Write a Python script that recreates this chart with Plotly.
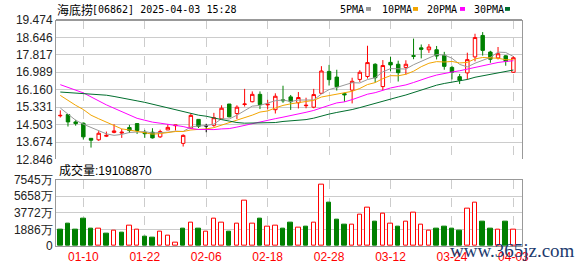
import plotly.graph_objects as go
import pandas as pd

# ---------------- data ----------------
tick_idx = [3, 11, 19, 27, 35, 43, 51, 59]
tick_labels = ["01-10", "01-22", "02-06", "02-18", "02-28", "03-12", "03-24", "04-03"]

opens = [14.92, 14.98, 14.63, 14.57, 13.85, 13.78, 13.95, 14.13, 14.10, 14.36,
         14.55, 14.13, 14.14, 13.92, 14.25, 14.45, 13.61, 14.34, 14.75, 14.44,
         14.47, 14.78, 15.48, 15.03, 15.46, 15.59, 15.94, 15.44, 15.21, 15.68,
         15.82, 15.54, 15.40, 15.33, 15.99, 17.03, 16.76, 15.97, 16.14, 16.65,
         16.79, 17.37, 16.31, 17.46, 17.37, 17.22, 17.78, 18.15, 18.06, 18.06,
         17.80, 17.22, 16.78, 16.96, 17.72, 18.74, 17.95, 17.67, 17.77, 16.99]
highs = [15.18, 14.98, 14.73, 14.60, 13.85, 14.19, 14.17, 14.52, 14.29, 14.49,
         14.55, 14.25, 14.33, 14.26, 14.52, 14.48, 14.04, 15.04, 14.75, 14.54,
         15.06, 15.42, 15.48, 15.42, 16.20, 16.08, 16.08, 15.68, 15.99, 16.35,
         15.91, 16.05, 15.78, 16.20, 17.28, 17.34, 17.11, 16.02, 16.73, 17.09,
         18.25, 17.42, 17.57, 17.72, 17.54, 17.56, 18.59, 18.31, 18.33, 18.24,
         17.96, 17.30, 16.91, 17.92, 18.82, 18.90, 18.01, 18.19, 17.80, 17.75]
lows = [14.84, 14.41, 14.45, 13.79, 13.41, 13.73, 13.91, 14.09, 13.87, 14.10,
        14.06, 13.87, 13.84, 13.87, 14.24, 14.22, 13.46, 14.30, 14.34, 14.14,
        14.40, 14.75, 14.85, 14.77, 15.36, 15.56, 15.24, 15.22, 15.03, 15.54,
        15.20, 15.27, 15.28, 15.28, 15.97, 16.36, 16.12, 15.59, 15.51, 16.53,
        16.69, 16.50, 16.14, 17.03, 16.55, 16.88, 17.61, 17.65, 17.91, 17.60,
        17.11, 16.65, 16.43, 16.64, 17.51, 17.78, 17.44, 17.60, 17.30, 16.96]
closes = [14.94, 14.63, 14.55, 13.92, 13.76, 14.09, 13.99, 14.20, 14.14, 14.22,
          14.22, 14.07, 13.87, 14.17, 14.37, 14.48, 13.99, 14.94, 14.42, 14.44,
          14.83, 15.28, 14.87, 15.33, 15.48, 15.94, 15.45, 15.47, 15.85, 15.64,
          15.59, 15.79, 15.42, 15.93, 17.05, 16.64, 16.30, 15.92, 16.56, 16.99,
          17.45, 16.73, 17.31, 17.34, 16.97, 17.37, 17.75, 18.08, 18.19, 17.76,
          17.27, 16.99, 16.61, 17.59, 18.64, 18.03, 17.61, 17.87, 17.50, 17.68]

# volume in 万 shares
volumes = [1840, 2503, 1840, 3055, 1950, 2024, 1398, 1693, 1509, 2355,
           1914, 1067, 957, 1582, 1141, 368, 1950, 2686, 1950, 1582,
           3128, 2686, 1619, 2576, 5152, 2576, 3165, 2245, 2355, 1950,
           2613, 2134, 2171, 2686, 6992, 4931, 3054, 2392, 2466, 3570,
           4342, 2723, 3680, 2576, 2171, 2797, 3790, 2466, 1803, 1950,
           2245, 1950, 1730, 4232, 4894, 2723, 1950, 1914, 2723, 1911]
first_volume_up = False  # colour of the first volume bar as seen in the picture

# moving-average values visible before each window is complete
ma5_head = [15.29, 15.01, 14.71, 14.52]
ma10_head = [15.89, 15.65, 15.42, 15.22, 14.95, 14.78, 14.62, 14.45, 14.30]
ma20_head = [16.40, 16.27, 16.17, 16.01, 15.82, 15.62, 15.44, 15.28, 15.13, 14.95,
             14.80, 14.71, 14.62, 14.57, 14.52, 14.48, 14.41, 14.32, 14.27]
ma30_head = [16.05, 16.03, 16.01, 15.98, 15.96, 15.93, 15.90, 15.84, 15.78, 15.70,
             15.63, 15.56, 15.47, 15.38, 15.30, 15.21, 15.13, 15.01, 14.95, 14.90,
             14.81, 14.74, 14.67, 14.60, 14.57, 14.57, 14.57, 14.57, 14.60]

price_ticks = [12.846, 13.674, 14.503, 15.331, 16.160, 16.989, 17.817, 18.646, 19.474]
vol_ticks = [0, 1886, 3772, 5658, 7545]
vol_tick_labels = ["0", "1886万", "3772万", "5658万", "7545万"]

title_name = "海底捞"
title_rest = "[06862] 2025-04-03 15:28"
vol_title = "成交量:19108870"
ma_names = ["5PMA", "10PMA", "20PMA", "30PMA"]
ma_colors = ["#999999", "#f2a500", "#ff00ff", "#006e2e"]

# ---------------- derived ----------------
n = len(closes)
x = list(range(n))
cs = pd.Series(closes)


def ma(win, head):
    s = cs.rolling(win).mean().tolist()
    return head + s[len(head):]


mas = [ma(5, ma5_head), ma(10, ma10_head), ma(20, ma20_head), ma(30, ma30_head)]

RED = "#ff0000"
GREEN = "#008000"

flat = [i for i in x if opens[i] == closes[i]]
moving = [i for i in x if opens[i] != closes[i]]

W, H = 578, 276
L, R, T, B = 56, 56, 20, 21
PH = H - T - B


def px_x(p):
    return (p - L) / (W - L - R)


def px_y(p):
    return (H - B - p) / PH


fig = go.Figure()

# candles
fig.add_trace(go.Candlestick(
    x=[x[i] for i in moving], open=[opens[i] for i in moving], high=[highs[i] for i in moving],
    low=[lows[i] for i in moving], close=[closes[i] for i in moving],
    xaxis="x2", yaxis="y2",
    increasing=dict(line=dict(color=RED, width=1), fillcolor="white"),
    decreasing=dict(line=dict(color=GREEN, width=1), fillcolor=GREEN),
    whiskerwidth=0, hoverinfo="skip", showlegend=False))
if flat:
    fig.add_trace(go.Candlestick(
        x=[x[i] for i in flat], open=[opens[i] for i in flat], high=[highs[i] for i in flat],
        low=[lows[i] for i in flat], close=[closes[i] for i in flat],
        xaxis="x2", yaxis="y2",
        increasing=dict(line=dict(color="black", width=1), fillcolor="black"),
        decreasing=dict(line=dict(color="black", width=1), fillcolor="black"),
        whiskerwidth=0, hoverinfo="skip", showlegend=False))

# moving averages
for vals, col in zip(mas, ma_colors):
    fig.add_trace(go.Scatter(x=x, y=vals, mode="lines", xaxis="x2", yaxis="y2",
                             line=dict(color=col, width=1), hoverinfo="skip", showlegend=False))

# volume
vol_up = [first_volume_up] + [closes[i] >= closes[i - 1] for i in range(1, n)]
fig.add_trace(go.Bar(
    x=x, y=volumes, width=0.58,
    marker=dict(color=["white" if u else GREEN for u in vol_up],
                line=dict(color=[RED if u else GREEN for u in vol_up], width=1)),
    hoverinfo="skip", showlegend=False))

xr = [-0.56, 60.12]
grid = "#cccccc"
frame = "#999999"
tickfont = dict(family="Liberation Sans, Arial, sans-serif", size=12, color="#222222")

fig.update_layout(
    width=W, height=H, margin=dict(l=L, r=R, t=T, b=B),
    paper_bgcolor="white", plot_bgcolor="white",
    boxgap=0.36, bargap=0,
    xaxis=dict(domain=[0, 1], range=xr, anchor="y", tickmode="array", tickvals=tick_idx,
               ticktext=tick_labels, tickfont=dict(family="Liberation Sans, Arial", size=12, color="red"),
               showgrid=True, gridcolor=grid, griddash="dash", gridwidth=1, zeroline=False,
               showline=True, linecolor=frame, linewidth=1, mirror=True, ticks="",
               rangeslider=dict(visible=False)),
    yaxis=dict(domain=[0, px_y(186)], range=[0, 7545], tickmode="array", tickvals=vol_ticks,
               ticktext=vol_tick_labels, tickfont=tickfont, showgrid=True, gridcolor=grid,
               zeroline=False, showline=True, linecolor=frame, linewidth=1, mirror=True, ticks=""),
    xaxis2=dict(domain=[0, 1], range=xr, anchor="y2", matches="x", tickmode="array", tickvals=tick_idx,
                showticklabels=False, showgrid=True, gridcolor=grid, griddash="dash", zeroline=False,
                showline=False, ticks="", rangeslider=dict(visible=False)),
    yaxis2=dict(domain=[px_y(165), 1], range=[price_ticks[0], price_ticks[-1]], tickmode="array",
                tickvals=price_ticks, ticktext=[f"{v:.3f}" for v in price_ticks], tickfont=tickfont,
                showgrid=True, gridcolor=grid, zeroline=False, showline=True, linecolor=frame,
                linewidth=1, mirror=True, ticks=""),
)

ann = []
ann.append(dict(text=title_name, x=px_x(55), y=px_y(9), xref="paper", yref="paper", xanchor="left",
                yanchor="middle", showarrow=False,
                font=dict(family="Noto Sans CJK SC", size=12, color="black")))
ann.append(dict(text=title_rest, x=px_x(90), y=px_y(9), xref="paper", yref="paper", xanchor="left",
                yanchor="middle", showarrow=False,
                font=dict(family="DejaVu Sans Mono", size=10, color="black")))
ann.append(dict(text=vol_title, x=px_x(57), y=px_y(177), xref="paper", yref="paper", xanchor="left",
                yanchor="middle", showarrow=False,
                font=dict(family="Liberation Sans, Noto Sans CJK SC", size=12, color="black")))
leg_x = [338, 380, 425, 472]
sq_x = [366, 413, 460, 505]
shapes = [dict(type="line", xref="paper", yref="paper", x0=0, x1=1, y0=1, y1=1,
               line=dict(color=frame, width=2))]
for name, lx, sx, col in zip(ma_names, leg_x, sq_x, ma_colors):
    ann.append(dict(text=name, x=px_x(lx), y=px_y(9), xref="paper", yref="paper", xanchor="left",
                    yanchor="middle", showarrow=False,
                    font=dict(family="DejaVu Sans Mono", size=10, color="black")))
    shapes.append(dict(type="rect", xref="paper", yref="paper", x0=px_x(sx), x1=px_x(sx + 5),
                       y0=px_y(10.5), y1=px_y(6.5), fillcolor=col, line=dict(width=0)))
ann.append(dict(text="www.365jz.com", x=px_x(512), y=px_y(260), xref="paper", yref="paper",
                xanchor="center", yanchor="middle", showarrow=False,
                font=dict(family="Liberation Serif", size=19, color="#1c3a6e")))
fig.update_layout(annotations=ann, shapes=shapes)

fig.write_html("out.html", config=dict(displayModeBar=False))
